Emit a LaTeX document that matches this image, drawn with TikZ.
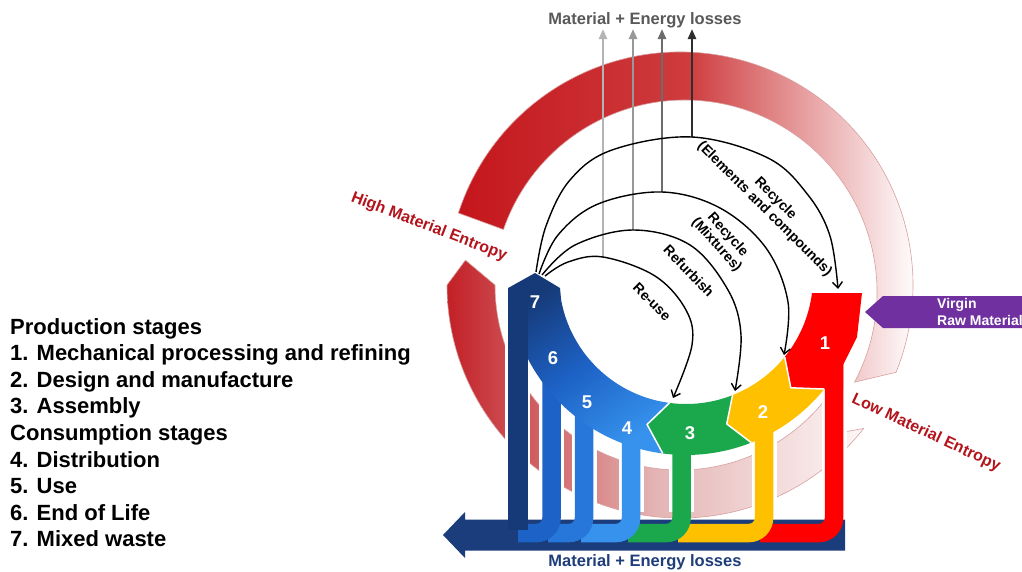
\documentclass[tikz,border=0pt]{standalone}
\usepackage{fontspec}
\setmainfont{Liberation Sans}
\usetikzlibrary{arrows.meta}

\definecolor{barnavy}{HTML}{1B3D7B}
\definecolor{stageseven}{HTML}{163A78}
\definecolor{stagesix}{HTML}{1D62C6}
\definecolor{stagefive}{HTML}{2677D9}
\definecolor{stagefour}{HTML}{3692EC}
\definecolor{stagethree}{HTML}{1BA84C}
\definecolor{stagetwo}{HTML}{FFC000}
\definecolor{stageone}{HTML}{FF0000}
\definecolor{virgin}{HTML}{7030A0}
\definecolor{entred}{HTML}{C4161C}
\definecolor{entmid}{HTML}{CE3C3E}
\definecolor{entredlow}{HTML}{C22026}
\definecolor{entmidlow}{HTML}{E4B4B4}
\definecolor{entpale}{HTML}{FDF6F6}
\definecolor{entline}{HTML}{D8A0A0}
\definecolor{entropytext}{HTML}{B3141C}
\definecolor{lossgray}{HTML}{595959}
\definecolor{lossone}{HTML}{B4B4B4}
\definecolor{losstwo}{HTML}{989898}
\definecolor{lossthree}{HTML}{6C6C6C}
\definecolor{lossfour}{HTML}{2E2E2E}
\definecolor{losstext}{HTML}{1F3D7A}

\begin{document}
\begin{tikzpicture}[x=1pt,y=-1pt,
  legendline/.style={anchor=base west, inner sep=0pt, font=\fontsize{22}{26}\selectfont\bfseries},
  stagenum/.style={text=white, inner sep=0pt, font=\fontsize{18.5}{18.5}\selectfont\bfseries},
  looplabel/.style={inner sep=0pt, align=center, font=\fontsize{14}{15}\selectfont\bfseries},
  entlabel/.style={text=entropytext, inner sep=0pt, font=\fontsize{16}{16}\selectfont\bfseries},
  losslabel/.style={inner sep=0pt, font=\fontsize{16.5}{17}\selectfont\bfseries},
  recyclearc/.style={line width=1.4pt, -{Straight Barb[length=6pt,width=10pt]}},
  lossarrow/.style={line width=2.8pt, -{Triangle[length=10pt,width=8pt]}},
  flowbar/.style={line width=18.5pt, rounded corners=15pt},
  barhalo/.style={white, line width=25pt},
  chevronline/.style={white, line width=1.5pt, line join=round},
]
\useasboundingbox (0,0) rectangle (1022,571);
\fill[white] (0,0) rectangle (1022,571);

% ---------- legend ----------
\foreach \txt [count=\i from 0] in {Production stages,
  1. Mechanical processing and refining,
  2. Design and manufacture,
  3. Assembly,
  Consumption stages,
  4. Distribution,
  5. Use,
  6. End of Life,
  7. Mixed waste}
  \node[legendline] (leg\i) at (10,{334+26.6*\i}) {\txt};

% ---------- entropy band ----------
\begin{scope}[shift={(680,285)}]
  % upper arc: high entropy side, fading to the right
  \shade[left color=entred, right color=white, middle color=entmid,
         draw=entline, line width=0.6pt]
    (198:233) arc[start angle=198, end angle=382, radius=233]
    -- ([shift={(5,7)}]388:192) arc[start angle=388, end angle=199, radius=192]
    -- cycle;
  % lower arc: from low entropy round the bottom up to the pointed end
  \shade[left color=entredlow, right color=entpale, middle color=entmidlow,
         draw=entline, line width=0.6pt]
    (38:233) arc[start angle=38, end angle=180, radius=233]
    -- (186.6:216) -- (180:185)
    arc[start angle=180, end angle=38, radius=185]
    -- (46:209) -- cycle;
\end{scope}

\node[entlabel, rotate=-21] (high) at (429,227) {High Material Entropy};
\node[entlabel, rotate=-25] (low) at (926,433) {Low Material Entropy};

% ---------- loss bar at the bottom ----------
\fill[barnavy] (443,535) -- (465,512) -- (465,519.5) -- (845,519.5)
  -- (845,550.5) -- (465,550.5) -- (465,558) -- cycle;

% ---------- outflow bars from each stage ----------
\foreach \xa/\yt/\xl/\col in {834/355/760/stageone, 764/425/678/stagetwo,
    681.5/440/628/stagethree, 631/430/581/stagefour,
    584/405/548/stagefive, 551.5/375/518/stagesix} {
  \draw[barhalo] (\xa,\yt+15) -- (\xa,512);
  \draw[flowbar, \col] (\xa,\yt) -- (\xa,533) -- (\xl,533);
}
\draw[barhalo] (517.75,300) -- (517.75,512);

% ---------- stage ring ----------
\begin{scope}[shift={(686,277)}]
  % stages 7 to 4
  \shade[top color=stageseven, bottom color=stagefour, middle color=stagesix,
         shading angle=35]
    (97.5:178) arc[start angle=97.5, end angle=176.5, radius=178]
    -- (-151,-4) -- (-126,11) -- (169.4:127)
    arc[start angle=169.4, end angle=97.5, radius=127] -- cycle;
  % stage 3
  \fill[stagethree]
    (68.5:178) arc[start angle=68.5, end angle=97.5, radius=178]
    -- (104.8:152.5) -- (97.5:127)
    arc[start angle=97.5, end angle=68.5, radius=127] -- cycle;
  \draw[chevronline] (97.5:178) -- (104.8:152.5) -- (97.5:127);
  % stage 2
  \fill[stagetwo]
    (39:178) arc[start angle=39, end angle=68.5, radius=178]
    -- (74.5:152.5) -- (68.5:127)
    arc[start angle=68.5, end angle=39, radius=127] -- cycle;
  \draw[chevronline] (68.5:178) -- (74.5:152.5) -- (68.5:127);
  % stage 1
  \fill[stageone]
    (7.3:127) -- (176,16) -- (171,60) -- (157,88) -- (157,112)
    -- (39:178) -- (46.6:152.5) -- (39:127)
    arc[start angle=39, end angle=7.3, radius=127] -- cycle;
  \draw[chevronline] (39:178) -- (46.6:152.5) -- (39:127);
\end{scope}

% stage 7 bar down into the loss bar
\fill[stageseven] (508,288) rectangle (527.5,530);

% stage numbers
\node[stagenum] (n1) at (825,343) {1};
\node[stagenum] (n2) at (763,412) {2};
\node[stagenum] (n3) at (690,433) {3};
\node[stagenum] (n4) at (627,428) {4};
\node[stagenum] (n5) at (587,402) {5};
\node[stagenum] (n6) at (553,358) {6};
\node[stagenum] (n7) at (535,302) {7};

% ---------- virgin raw material ----------
\fill[virgin] (865,312) -- (883,296) -- (1025,296) -- (1025,328) -- (883,328) -- cycle;
\node[anchor=west, align=left, text=white, inner sep=0pt,
      font=\fontsize{14}{16.5}\selectfont\bfseries] (virgintext) at (937,312)
  {Virgin\\Raw Material};

% ---------- recovery loops ----------
\coordinate (s1) at (545,276);
\coordinate (s2) at (542,275);
\coordinate (s3) at (539,274);
\coordinate (s4) at (536,272);
\coordinate (t1) at (603,257);
\coordinate (t2) at (633,230);
\coordinate (t3) at (662,192);
\coordinate (t4) at (692,137);
\coordinate (e1) at (673,398);
\coordinate (e2) at (735,391);
\coordinate (e3) at (784,355);
\coordinate (e4) at (838,289);
\coordinate (u1) at (603,29);
\coordinate (u2) at (633,29);
\coordinate (u3) at (662,29);
\coordinate (u4) at (692,29);

\draw[lossarrow, lossone] (t1) -- (u1);
\draw[lossarrow, losstwo] (t2) -- (u2);
\draw[lossarrow, lossthree] (t3) -- (u3);
\draw[lossarrow, lossfour] (t4) -- (u4);

\draw[recyclearc] plot[smooth, tension=0.6] coordinates
  {(s1) (568,262) (t1) (655,276) (686,310) (692,345) (e1)};
\draw[recyclearc] plot[smooth, tension=0.6] coordinates
  {(s2) (575,245) (t2) (690,245) (728,290) (741,335) (e2)};
\draw[recyclearc] plot[smooth, tension=0.6] coordinates
  {(s3) (558,235) (598,204) (t3) (720,208) (766,248) (788,302) (e3)};
\draw[recyclearc] plot[smooth, tension=0.6] coordinates
  {(s4) (546,226) (570,180) (612,150) (t4) (768,158) (808,195) (830,236) (e4)};

\node[looplabel, rotate=-45] (reuse) at (652,302) {Re-use};
\node[looplabel, rotate=-46] (refurb) at (689,271) {Refurbish};
\node[looplabel, rotate=-48] (mix) at (722,240) {Recycle\\(Mixtures)};
\node[looplabel, rotate=-45] (elem) at (770,204) {Recycle\\(Elements and compounds)};

% ---------- loss labels ----------
\node[losslabel, text=lossgray] (losstop) at (645,20) {Material + Energy losses};
\node[losslabel, text=losstext] (lossbottom) at (645,562) {Material + Energy losses};

\end{tikzpicture}
\end{document}
